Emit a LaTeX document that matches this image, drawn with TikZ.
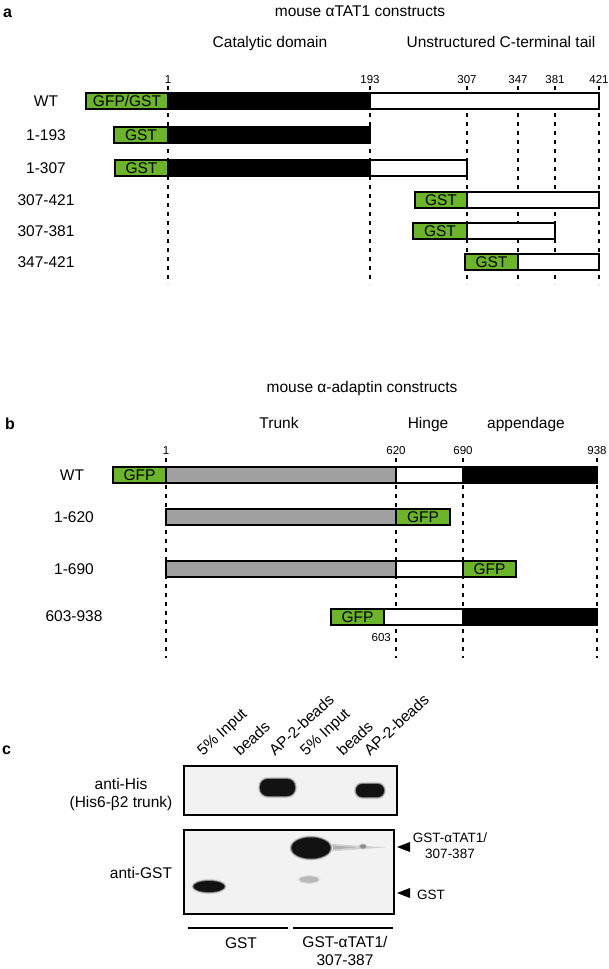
\documentclass[tikz,border=0pt]{standalone}
\usepackage{fontspec}
\setmainfont{Liberation Sans}
\definecolor{tagg}{RGB}{108,180,44}
\definecolor{trunkg}{RGB}{160,160,160}
\newcommand\mysegm[4]{\draw[seg,fill=#1] (#2,#4-8) rectangle (#3,#4+8);}
\newcommand\mytag[5]{\node[tagnode, minimum width=#3-#2, minimum height=16] (#5) at ({(#2+#3)/2},#4) {#1};}
% soft ellipse band: x y rx ry
\newcommand\myband[4]{%
  \fill[black!10] (#1,#2) ellipse ({#3+2.4} and {#4+2.4});
  \fill[black!30] (#1,#2) ellipse ({#3+1.5} and {#4+1.5});
  \fill[black!60] (#1,#2) ellipse ({#3+0.7} and {#4+0.7});
  \fill[black!93] (#1,#2) ellipse (#3 and #4);}
\begin{document}
\begin{tikzpicture}[x=1pt,y=-1pt,
  lbl/.style={font=\fontsize{15.5}{18}\selectfont, anchor=base, inner sep=0pt},
  side/.style={font=\fontsize{13.5}{16}\selectfont, inner sep=0pt},
  num/.style={font=\fontsize{11.5}{13}\selectfont, anchor=base, inner sep=0pt},
  panel/.style={font=\fontsize{16}{18}\selectfont\bfseries, anchor=base west, inner sep=0pt},
  guide/.style={line width=1.8pt, dash pattern=on 4pt off 5pt},
  seg/.style={draw=black, line width=1.8pt},
  tagnode/.style={seg, fill=tagg, inner sep=0pt, font=\fontsize{15.5}{18}\selectfont},
  blot/.style={draw=black, line width=2.2pt, fill=black!5, inner sep=0pt},
  uline/.style={line width=1.8pt}]
\useasboundingbox (0,0) rectangle (609,969);

% ---------------- panel a ----------------
\node[panel] (pa) at (3,17) {a};
\node[lbl] (ta) at (360,16.5) {mouse αTAT1 constructs};
\node[lbl] (cat) at (270,47.5) {Catalytic domain};
\node[lbl] (uns) at (501,47.5) {Unstructured C-terminal tail};
\foreach \x/\t in {168/1,370/193,467/307,518/347,555/381,599/421}{
  \node[num] (na\t) at (\x,83.5) {\t};
  \draw[guide] (\x,86) -- (\x,284);
}
% rows
\node[lbl] (ra1) at (46,106.5) {WT};
\mytag{GFP/GST}{86}{168}{101}{ga1}
\mysegm{black}{168}{370}{101}
\mysegm{white}{370}{599}{101}

\node[lbl] (ra2) at (46,140.5) {1-193};
\mytag{GST}{114}{168}{135}{ga2}
\mysegm{black}{168}{370}{135}

\node[lbl] (ra3) at (46,173.5) {1-307};
\mytag{GST}{115}{168}{168}{ga3}
\mysegm{black}{168}{370}{168}
\mysegm{white}{370}{467}{168}

\node[lbl] (ra4) at (46,205.5) {307-421};
\mytag{GST}{415}{467}{200}{ga4}
\mysegm{white}{467}{599}{200}

\node[lbl] (ra5) at (46,236.5) {307-381};
\mytag{GST}{413}{467}{231}{ga5}
\mysegm{white}{467}{555}{231}

\node[lbl] (ra6) at (46,267.5) {347-421};
\mytag{GST}{465}{518}{262}{ga6}
\mysegm{white}{518}{599}{262}

% ---------------- panel b ----------------
\node[lbl] (tb) at (362,392.5) {mouse α-adaptin constructs};
\node[panel] (pb) at (5,429) {b};
\node[lbl] (trk) at (279,428.5) {Trunk};
\node[lbl] (hng) at (428,428.5) {Hinge};
\node[lbl] (app) at (526,428.5) {appendage};
\foreach \x/\t in {166/1,396/620,463/690,597/938}{
  \node[num] (nb\t) at (\x,454) {\t};
  \draw[guide] (\x,458) -- (\x,658);
}
\node[lbl] (rb1) at (72,480.5) {WT};
\mytag{GFP}{113}{166}{475}{gb1}
\mysegm{trunkg}{166}{396}{475}
\mysegm{white}{396}{463}{475}
\mysegm{black}{463}{597}{475}

\node[lbl] (rb2) at (74,522.5) {1-620};
\mysegm{trunkg}{166}{396}{517}
\mytag{GFP}{396}{450}{517}{gb2}

\node[lbl] (rb3) at (74,574.5) {1-690};
\mysegm{trunkg}{166}{396}{569}
\mysegm{white}{396}{463}{569}
\mytag{GFP}{463}{516}{569}{gb3}

\node[lbl] (rb4) at (74,621.5) {603-938};
\mytag{GFP}{331}{384}{617}{gb4}
\mysegm{white}{384}{463}{617}
\mysegm{black}{463}{597}{617}
\node[num, anchor=base east] (n603) at (391,641) {603};

% ---------------- panel c ----------------
\node[panel] (pc) at (2,754) {c};
\foreach \x/\t/\n in {203/5\% Input/l1,240/beads/l2,275/AP-2-beads/l3,306/5\% Input/l4,343/beads/l5,370/AP-2-beads/l6}{
  \node[lbl, anchor=base west, rotate=43] (\n) at (\x,757) {\t};
}
\node[blot, minimum width=213, minimum height=49] (blot1) at (290.5,790.5) {};
\node[side, align=center, font=\fontsize{15.5}{18}\selectfont] (his) at (121,794) {anti-His\\(His6-β2 trunk)};
% bands blot 1 (soft capsules)
\fill[black!10, rounded corners=10.5] (257.5,776.5) rectangle (297.5,798.5);
\fill[black!30, rounded corners=9.5] (258.5,777.5) rectangle (296.5,797.5);
\fill[black!60, rounded corners=8.7] (259.3,778.3) rectangle (295.7,796.7);
\fill[black!93, rounded corners=8] (260,779) rectangle (295,796);
\fill[black!10, rounded corners=9] (353.5,781.5) rectangle (386.5,799.5);
\fill[black!30, rounded corners=8] (354.5,782.5) rectangle (385.5,798.5);
\fill[black!60, rounded corners=7.2] (355.3,783.3) rectangle (384.7,797.7);
\fill[black!93, rounded corners=6.5] (356,784) rectangle (384,797);

\node[blot, minimum width=210, minimum height=84] (blot2) at (289,872) {};
\node[lbl] (gstab) at (141,878.5) {anti-GST};
% bands blot 2
\fill[black!18] (326,843.5) .. controls (345,845) and (368,846) .. (386,847.3)
   .. controls (368,848.8) and (345,850) .. (326,852) -- cycle;
\fill[black!30] (326,845) .. controls (338,846) and (348,846.5) .. (356,847.3)
   .. controls (348,848.3) and (338,849) .. (326,850) -- cycle;
\fill[black!22] (363,846.5) ellipse (4.5 and 3);
\fill[black!45] (363,846.5) ellipse (3 and 2);
\myband{311}{848}{19.5}{10.5}
\fill[black!12] (309,879.5) ellipse (11.5 and 4.5);
\fill[black!28] (309,879.5) ellipse (9.5 and 3.2);
\myband{209}{886.5}{15.5}{5.5}

% markers
\coordinate (m1) at (397,847);
\coordinate (m2) at (397,893);
\fill (m1) -- ++(13,-5) -- ++(0,10) -- cycle;
\fill (m2) -- ++(13,-5) -- ++(0,10) -- cycle;
\node[side, align=center] (lab1) at (450,846) {GST-αTAT1/\\307-387};
\node[side, anchor=west] (lab2) at (417,895) {GST};

% bottom groups
\draw[uline] (188,928) -- (288,928);
\draw[uline] (293,928) -- (393,928);
\node[lbl] (g1) at (241,948.5) {GST};
\node[lbl, align=center, anchor=north] (g2) at (345,936) {GST-αTAT1/\\307-387};
\end{tikzpicture}
\end{document}
